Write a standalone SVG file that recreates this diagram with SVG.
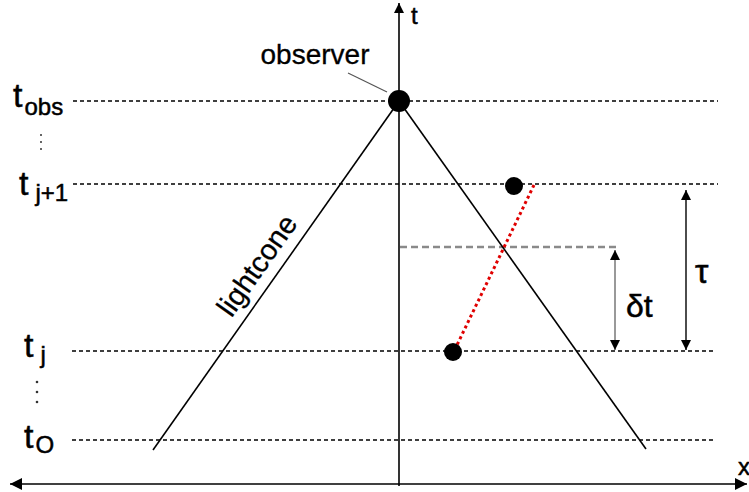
<svg xmlns="http://www.w3.org/2000/svg" width="749" height="492" viewBox="0 0 749 492">
<defs>
<marker id="ah" viewBox="0 0 10 10" refX="10" refY="5" markerWidth="10" markerHeight="10" markerUnits="userSpaceOnUse" orient="auto-start-reverse"><path d="M0,0 L10,5 L0,10 z" fill="#000"/></marker>
<marker id="ah2" viewBox="0 0 10 10" refX="10" refY="5" markerWidth="12" markerHeight="12" markerUnits="userSpaceOnUse" orient="auto-start-reverse"><path d="M0,0 L10,5 L0,10 z" fill="#000"/></marker>
</defs>
<style>
.lbl{font-family:"Liberation Sans","DejaVu Sans",sans-serif;fill:#000;stroke:#000;stroke-width:0.5}
.big{font-size:34px}
.sub{font-size:24px}
.dash{stroke:#000;stroke-width:1.3;stroke-dasharray:4 3;fill:none}
.ln{stroke:#000;stroke-width:1.6;fill:none}
</style>
<g id="connectors">
<line class="dash" x1="73" y1="101" x2="718" y2="101"/>
<line class="dash" x1="73" y1="184" x2="718" y2="184"/>
<line class="dash" x1="72" y1="351" x2="714" y2="351"/>
<line class="dash" x1="72" y1="440" x2="716" y2="440"/>
<line x1="400" y1="247" x2="618" y2="247" stroke="#8a8a8a" stroke-width="2.6" stroke-dasharray="7 4"/>
<line class="ln" x1="399" y1="486" x2="399" y2="3" marker-end="url(#ah)"/>
<line class="ln" x1="10" y1="484" x2="747" y2="484" marker-start="url(#ah2)" marker-end="url(#ah2)"/>
<line class="ln" x1="399" y1="101" x2="153" y2="450"/>
<line class="ln" x1="399" y1="101" x2="646" y2="449"/>
<line x1="348" y1="73" x2="387" y2="92" stroke="#555" stroke-width="1.2"/>
<line x1="534" y1="185" x2="457" y2="345" stroke="#e00000" stroke-width="3" stroke-dasharray="3 3"/>
<line x1="615" y1="250" x2="615" y2="350" stroke="#555" stroke-width="1.2" marker-start="url(#ah)" marker-end="url(#ah)"/>
<line x1="686" y1="190" x2="686" y2="350" stroke="#000" stroke-width="1.4" marker-start="url(#ah)" marker-end="url(#ah)"/>
</g>
<g id="observer">
<circle cx="399" cy="101" r="11" fill="#000"/>
<text class="lbl" x="315" y="64" font-size="28" text-anchor="middle" style="stroke-width:0.3">observer</text>
</g>
<g id="event1"><circle cx="514" cy="186" r="9" fill="#000"/></g>
<g id="event2"><circle cx="453" cy="352" r="9" fill="#000"/></g>
<g id="axis-labels">
<text class="lbl" x="411" y="24" font-size="24">t</text>
<text class="lbl" x="738" y="475" font-size="24">x</text>
</g>
<g id="lightcone-label">
<text class="lbl" font-size="29" text-anchor="middle" style="stroke-width:0.3" transform="translate(265,271) rotate(-54.8)">lightcone</text>
</g>
<g id="time-labels">
<text class="lbl big" x="13" y="107">t<tspan class="sub" dx="2" dy="8">obs</tspan></text>
<text class="lbl big" x="19" y="195">t<tspan class="sub" dx="7" dy="6">j+1</tspan></text>
<text class="lbl big" x="24" y="357">t<tspan class="sub" dx="7" dy="6">j</tspan></text>
<text class="lbl big" x="24" y="448">t<tspan class="sub" dx="2" dy="5">O</tspan></text>
<g fill="#333"><circle cx="41" cy="135" r="1"/><circle cx="41" cy="142" r="1"/><circle cx="41" cy="149" r="1"/>
<circle cx="37" cy="382" r="1.3"/><circle cx="37" cy="392" r="1.3"/><circle cx="37" cy="402" r="1.3"/></g>
</g>
<g id="interval-labels">
<text class="lbl" x="626" y="317" font-size="32">δt</text>
<text class="lbl" x="695" y="283" font-size="34">τ</text>
</g>
</svg>
